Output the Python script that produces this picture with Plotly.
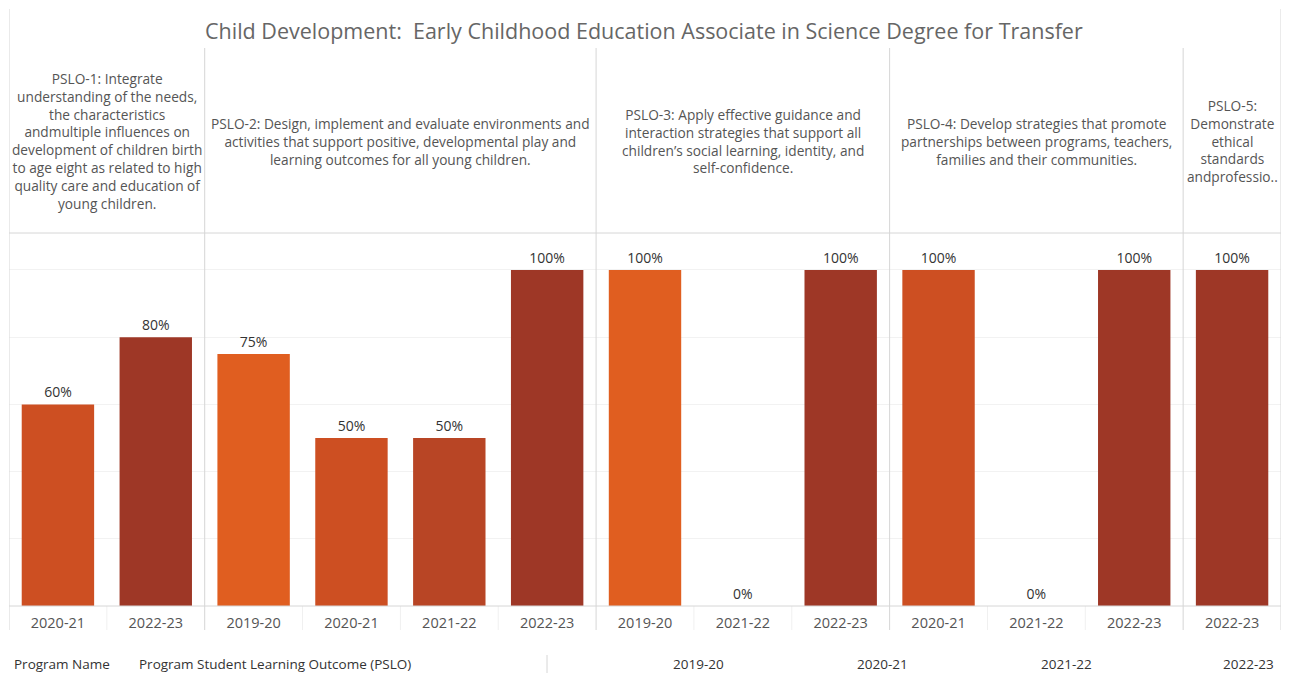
import plotly.graph_objects as go

title = "Child Development:  Early Childhood Education Associate in Science Degree for Transfer"
pslo_headers = [
    "PSLO-1: Integrate<br>understanding of the needs,<br>the characteristics<br>andmultiple influences on<br>development of children birth<br>to age eight as related to high<br>quality care and education of<br>young children.",
    "PSLO-2: Design, implement and evaluate environments and<br>activities that support positive, developmental play and<br>learning outcomes for all young children.",
    "PSLO-3: Apply effective guidance and<br>interaction strategies that support all<br>children\u2019s social learning, identity, and<br>self-confidence.",
    "PSLO-4: Develop strategies that promote<br>partnerships between programs, teachers,<br>families and their communities.",
    "PSLO-5:<br>Demonstrate<br>ethical<br>standards<br>andprofessio..",
]
bar_pslo = [0, 0, 1, 1, 1, 1, 2, 2, 2, 3, 3, 3, 4]
bar_year = ["2020-21", "2022-23", "2019-20", "2020-21", "2021-22", "2022-23",
            "2019-20", "2021-22", "2022-23", "2020-21", "2021-22", "2022-23", "2022-23"]
bar_value = [60, 80, 75, 50, 50, 100, 100, 0, 100, 100, 0, 100, 100]
years = ["2019-20", "2020-21", "2021-22", "2022-23"]
year_colors = {"2019-20": "#E05E20", "2020-21": "#CD4F22", "2021-22": "#B84525", "2022-23": "#9E3726"}
bottom_labels = ["Program Name", "Program Student Learning Outcome (PSLO)",
                 "2019-20", "2020-21", "2021-22", "2022-23"]

FONT = "'Open Sans', Lato, sans-serif"
positions = list(range(len(bar_value)))

# page has an 8px body margin; figure occupies global x 8..1281, y 8..673
W, H = 1273, 665
L, R, T, B = 1, 0, 225, 67
PW = W - L - R
PH = H - T - B


def px_x(gx):
    return (gx - 8 - L) / PW


def px_y(gy):
    return (H - B - (gy - 8)) / PH


fig = go.Figure()
for yr in years:
    xs = [p for p, y in zip(positions, bar_year) if y == yr]
    vs = [v for v, y in zip(bar_value, bar_year) if y == yr]
    fig.add_trace(go.Bar(
        x=xs, y=vs, width=0.74, name=yr,
        marker=dict(color=year_colors[yr], line=dict(width=0)),
        text=[f"{v}%" for v in vs], textposition="outside",
        textfont=dict(family=FONT, size=14, color="#333333"),
        cliponaxis=False, showlegend=False,
    ))

shapes = []
line_col = "#d6d6d6"
y_tick_bottom = px_y(630)
for i in range(1, len(bar_pslo)):
    if bar_pslo[i] != bar_pslo[i - 1]:
        shapes.append(dict(type="line", xref="x", yref="paper", x0=i - 0.5, x1=i - 0.5,
                           y0=y_tick_bottom, y1=px_y(48), line=dict(color=line_col, width=1)))
    else:
        shapes.append(dict(type="line", xref="x", yref="paper", x0=i - 0.5, x1=i - 0.5,
                           y0=y_tick_bottom, y1=0, line=dict(color="#f0f0f0", width=1)))
for b in [-0.5, len(bar_pslo) - 0.5]:
    shapes.append(dict(type="line", xref="x", yref="paper", x0=b, x1=b, y0=y_tick_bottom, y1=px_y(9),
                       line=dict(color=line_col, width=1)))
shapes.append(dict(type="line", xref="paper", yref="paper", x0=0, x1=1, y0=1, y1=1,
                   line=dict(color=line_col, width=1)))
shapes.append(dict(type="line", xref="paper", yref="paper", x0=0, x1=1, y0=0, y1=0,
                   line=dict(color=line_col, width=1)))
shapes.append(dict(type="line", xref="paper", yref="paper", x0=px_x(547), x1=px_x(547),
                   y0=px_y(655), y1=px_y(673), line=dict(color=line_col, width=1)))

annotations = [dict(text=title, xref="paper", yref="paper", x=px_x(644), y=px_y(30),
                    xanchor="center", yanchor="middle", showarrow=False,
                    font=dict(family=FONT, size=21.5, color="#666666"))]
for k, h in enumerate(pslo_headers):
    idx = [p for p, q in zip(positions, bar_pslo) if q == k]
    cx = (min(idx) + max(idx)) / 2
    annotations.append(dict(text=h, xref="x", yref="paper", x=cx, y=px_y(141), xanchor="center",
                            yanchor="middle", showarrow=False, align="center",
                            font=dict(family=FONT, size=13.7, color="#555555")))

bottom_pos = [(62, "center"), (137, "left"), (698, "center"), (882, "center"), (1066, "center"),
              (1276, "right")]
for txt, (gx, anc) in zip(bottom_labels, bottom_pos):
    annotations.append(dict(text=txt, xref="paper", yref="paper", x=px_x(gx), y=px_y(664),
                            xanchor=anc, yanchor="middle", showarrow=False,
                            font=dict(family=FONT, size=13.5, color="#333333")))

fig.update_layout(
    width=W, height=H,
    margin=dict(l=L, r=R, t=T, b=B),
    paper_bgcolor="white", plot_bgcolor="white",
    barmode="overlay",
    xaxis=dict(range=[-0.5, len(bar_value) - 0.5], tickvals=positions, ticktext=bar_year,
               showgrid=False, zeroline=False, showline=False,
               ticks="outside", ticklen=4, tickcolor="rgba(0,0,0,0)",
               tickfont=dict(family=FONT, size=14.5, color="#555555")),
    yaxis=dict(range=[0, 111], tickvals=[0, 20, 40, 60, 80, 100], showticklabels=False,
               showgrid=True, gridcolor="#f2f2f2", zeroline=False, showline=False),
    shapes=shapes, annotations=annotations,
)
fig.write_html("out.html")
